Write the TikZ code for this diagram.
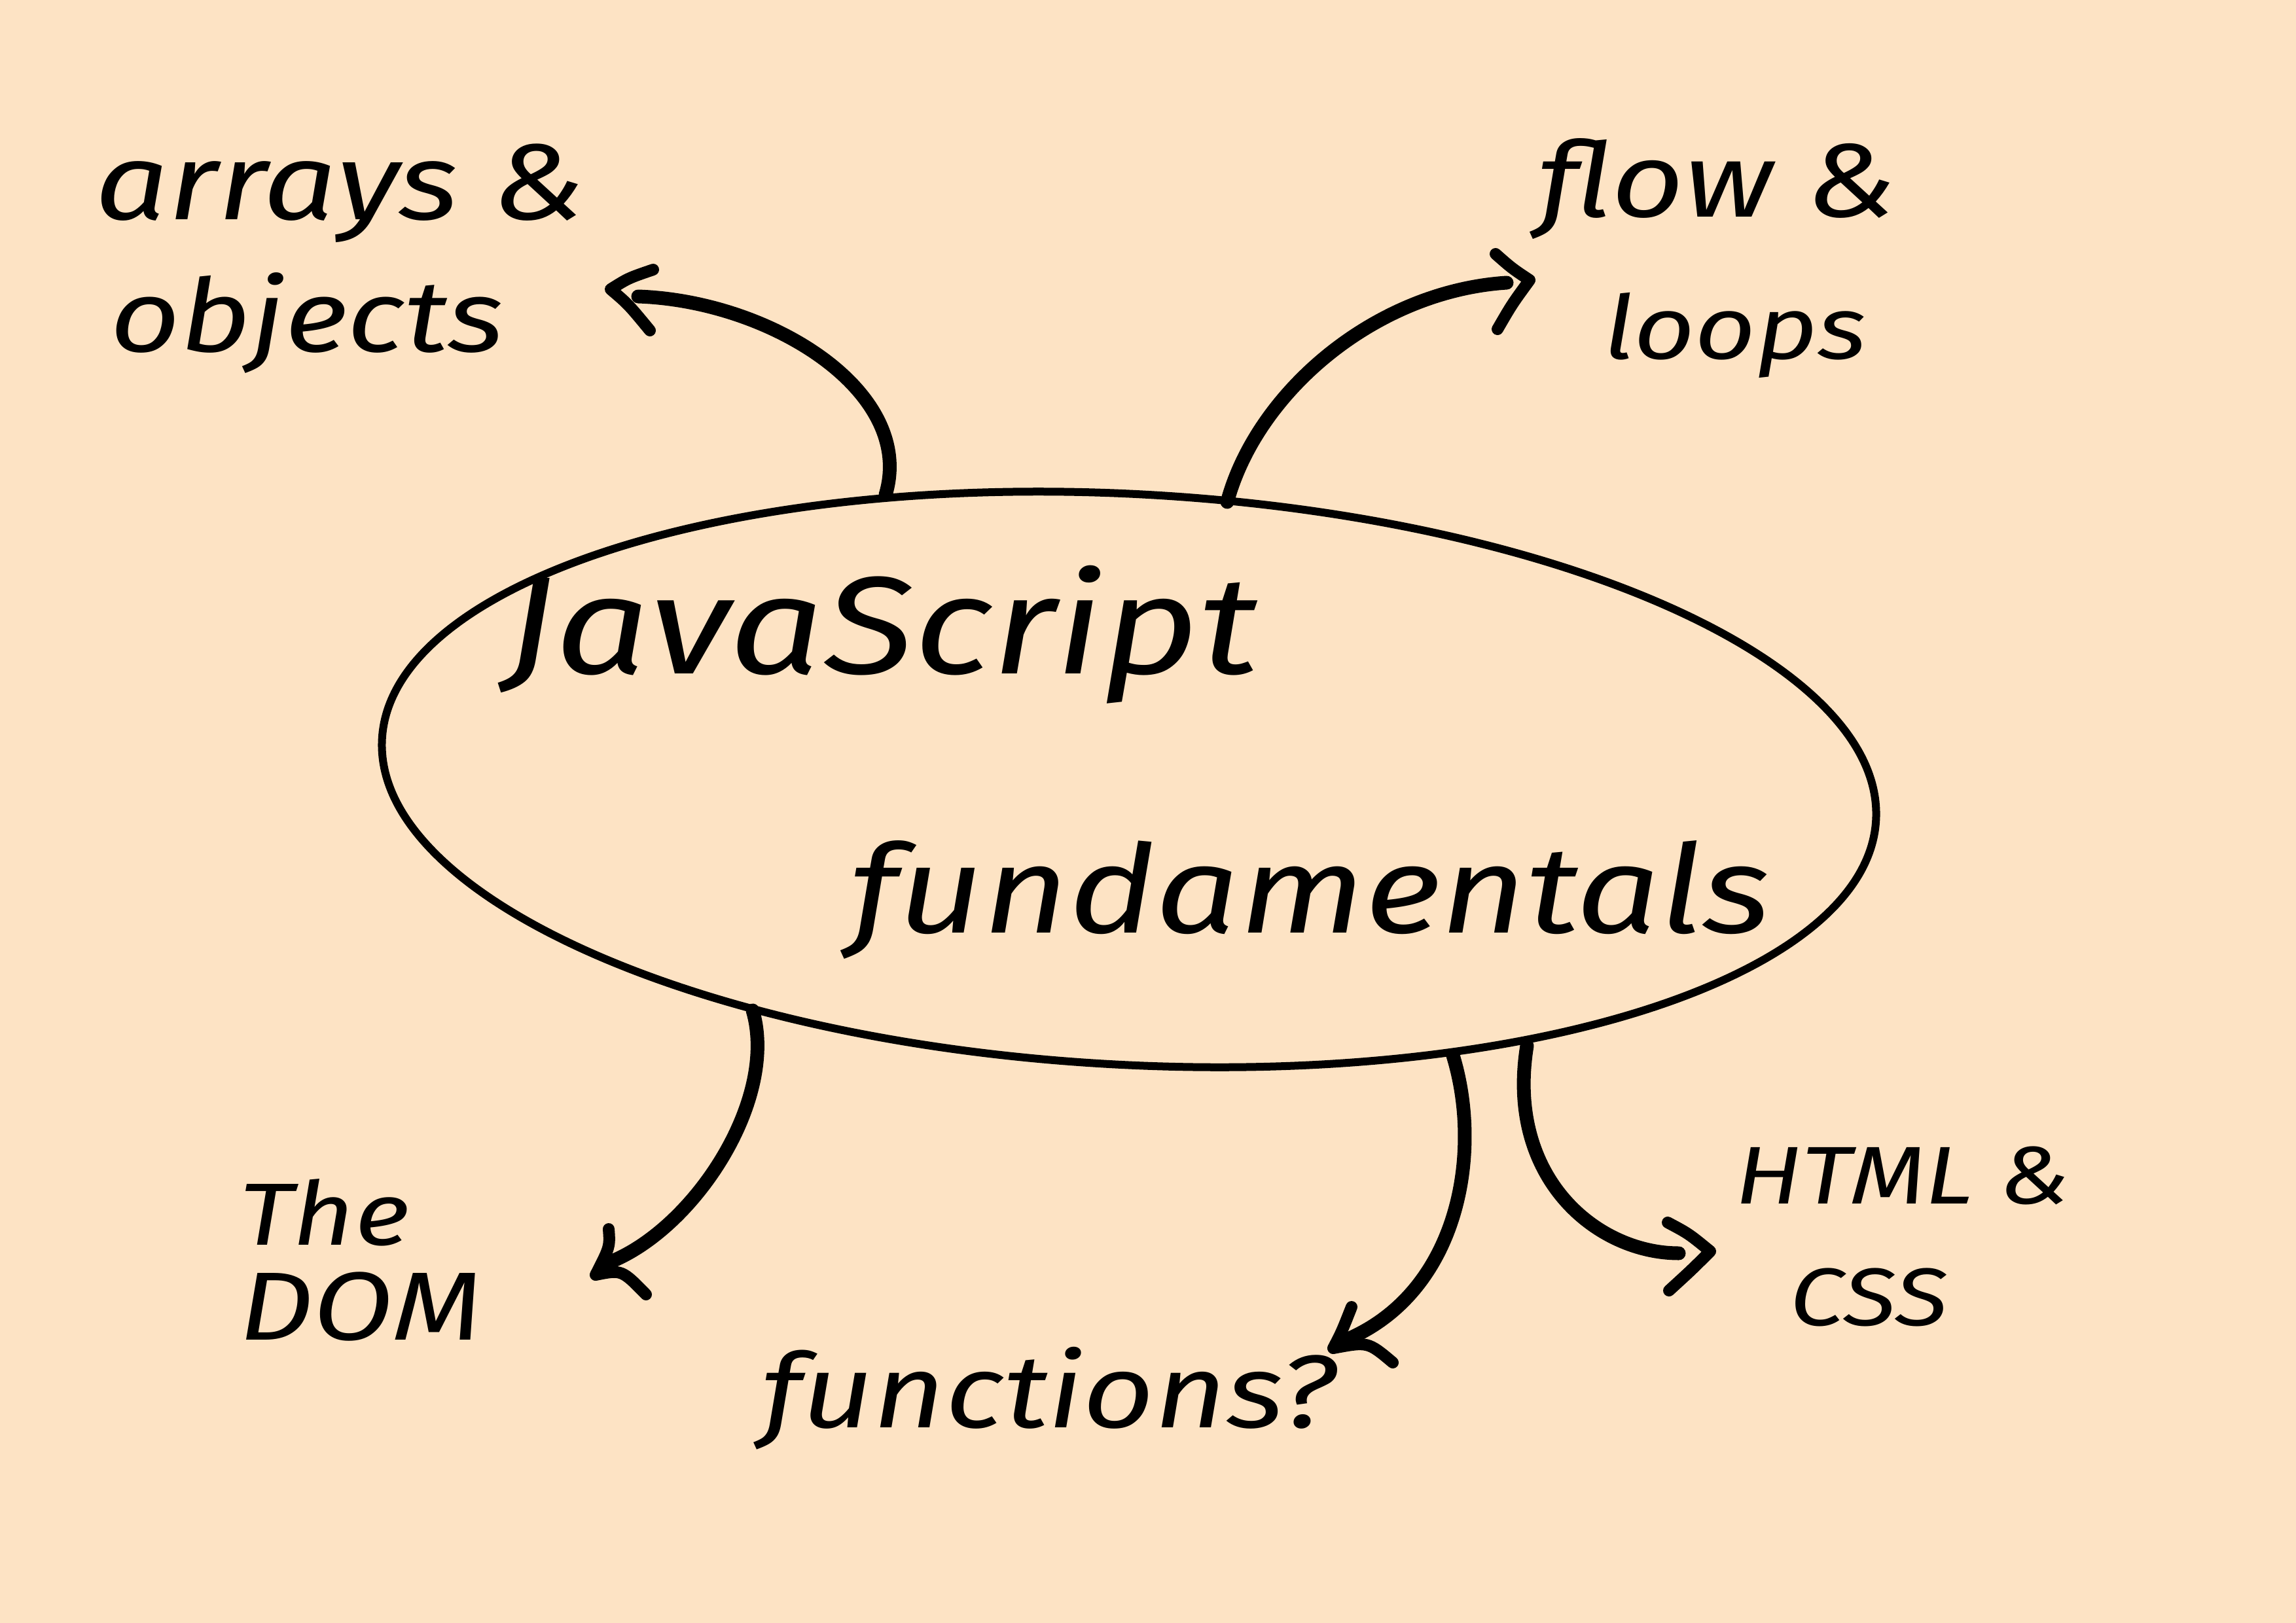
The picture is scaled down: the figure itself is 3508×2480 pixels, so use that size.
\documentclass[tikz,border=0pt]{standalone}
\usepackage{fontspec}
\setmainfont{Fira Sans}[FakeStretch=1.2]
\usetikzlibrary{shapes.geometric}
\definecolor{bg}{RGB}{253,227,196}
\tikzset{
  lbl/.style={anchor=base west, inner sep=0pt, font=\itshape\fontsize{#1}{#1}\selectfont},
  stroke/.style={line width=21pt, line cap=round, line join=round},
  barb/.style={line width=18pt, line cap=round, line join=round},
  oval/.style={draw, ellipse, line width=12pt, inner sep=0pt, minimum width=2286pt, minimum height=872pt, rotate=-3.1}
}
\begin{document}
\begin{tikzpicture}[x=1pt,y=-1pt]
\useasboundingbox (0,0) rectangle (3508,2480);
\fill[bg] (0,0) rectangle (3508,2480);

% central ellipse
\node[oval] (ell) at (1725,1191) {};
\node[lbl=212] (js) at (772,1029) {JavaScript};
\node[lbl=188] (fund) at (1298,1425) {fundamentals};

% labels
\node[lbl=165] (arr) at (145,336) {arrays \&};
\node[lbl=155] (obj) at (168,537) {objects};
\node[lbl=160] (flow) at (2349,331) {flow \&};
\node[lbl=135] (loops) at (2450,548) {loops};
\node[lbl=135] (the) at (365,1902) {The};
\node[lbl=148] (dom) at (365,2047) {DOM};
\node[lbl=158] (func) at (1163,2181) {functions?};
\node[lbl=125] (html) at (2651,1839) {HTML \&};
\node[lbl=125] (css) at (2734,2025) {CSS};

% connector points
\coordinate (s1) at (1353,756);  \coordinate (e1) at (975,453);
\coordinate (t1) at (933,442);   \coordinate (u1) at (998,412);  \coordinate (l1) at (993,505);
\coordinate (s2) at (1875,767);  \coordinate (e2) at (2302,432);
\coordinate (t2) at (2337,428);  \coordinate (u2) at (2285,388); \coordinate (l2) at (2288,503);
\coordinate (s3) at (1150,1544); \coordinate (e3) at (928,1930);
\coordinate (t3) at (910,1948);  \coordinate (u3) at (930,1878); \coordinate (l3) at (987,1978);
\coordinate (s4) at (2220,1613); \coordinate (e4) at (2062,2045);
\coordinate (t4) at (2037,2060); \coordinate (u4) at (2065,1997); \coordinate (l4) at (2128,2082);
\coordinate (s5) at (2333,1598); \coordinate (e5) at (2565,1915);
\coordinate (t5) at (2613,1912); \coordinate (u5) at (2548,1868); \coordinate (l5) at (2550,1972);

% arrows
\draw[stroke] (s1) .. controls (1400,600) and (1180,460) .. (e1);
\draw[barb] (u1) .. controls (960,425) .. (t1) .. controls (960,465) .. (l1);
\draw[stroke] (s2) .. controls (1920,600) and (2100,445) .. (e2);
\draw[barb] (u2) .. controls (2310,410) .. (t2) .. controls (2310,465) .. (l2);
\draw[stroke] (s3) .. controls (1190,1680) and (1060,1880) .. (e3);
\draw[barb] (u3) .. controls (932,1905) .. (t3) .. controls (950,1940) .. (l3);
\draw[stroke] (s4) .. controls (2265,1760) and (2230,1970) .. (e4);
\draw[barb] (u4) .. controls (2050,2035) .. (t4) .. controls (2090,2050) .. (l4);
\draw[stroke] (s5) .. controls (2300,1800) and (2440,1915) .. (e5);
\draw[barb] (u5) .. controls (2580,1885) .. (t5) .. controls (2585,1940) .. (l5);
\end{tikzpicture}
\end{document}
